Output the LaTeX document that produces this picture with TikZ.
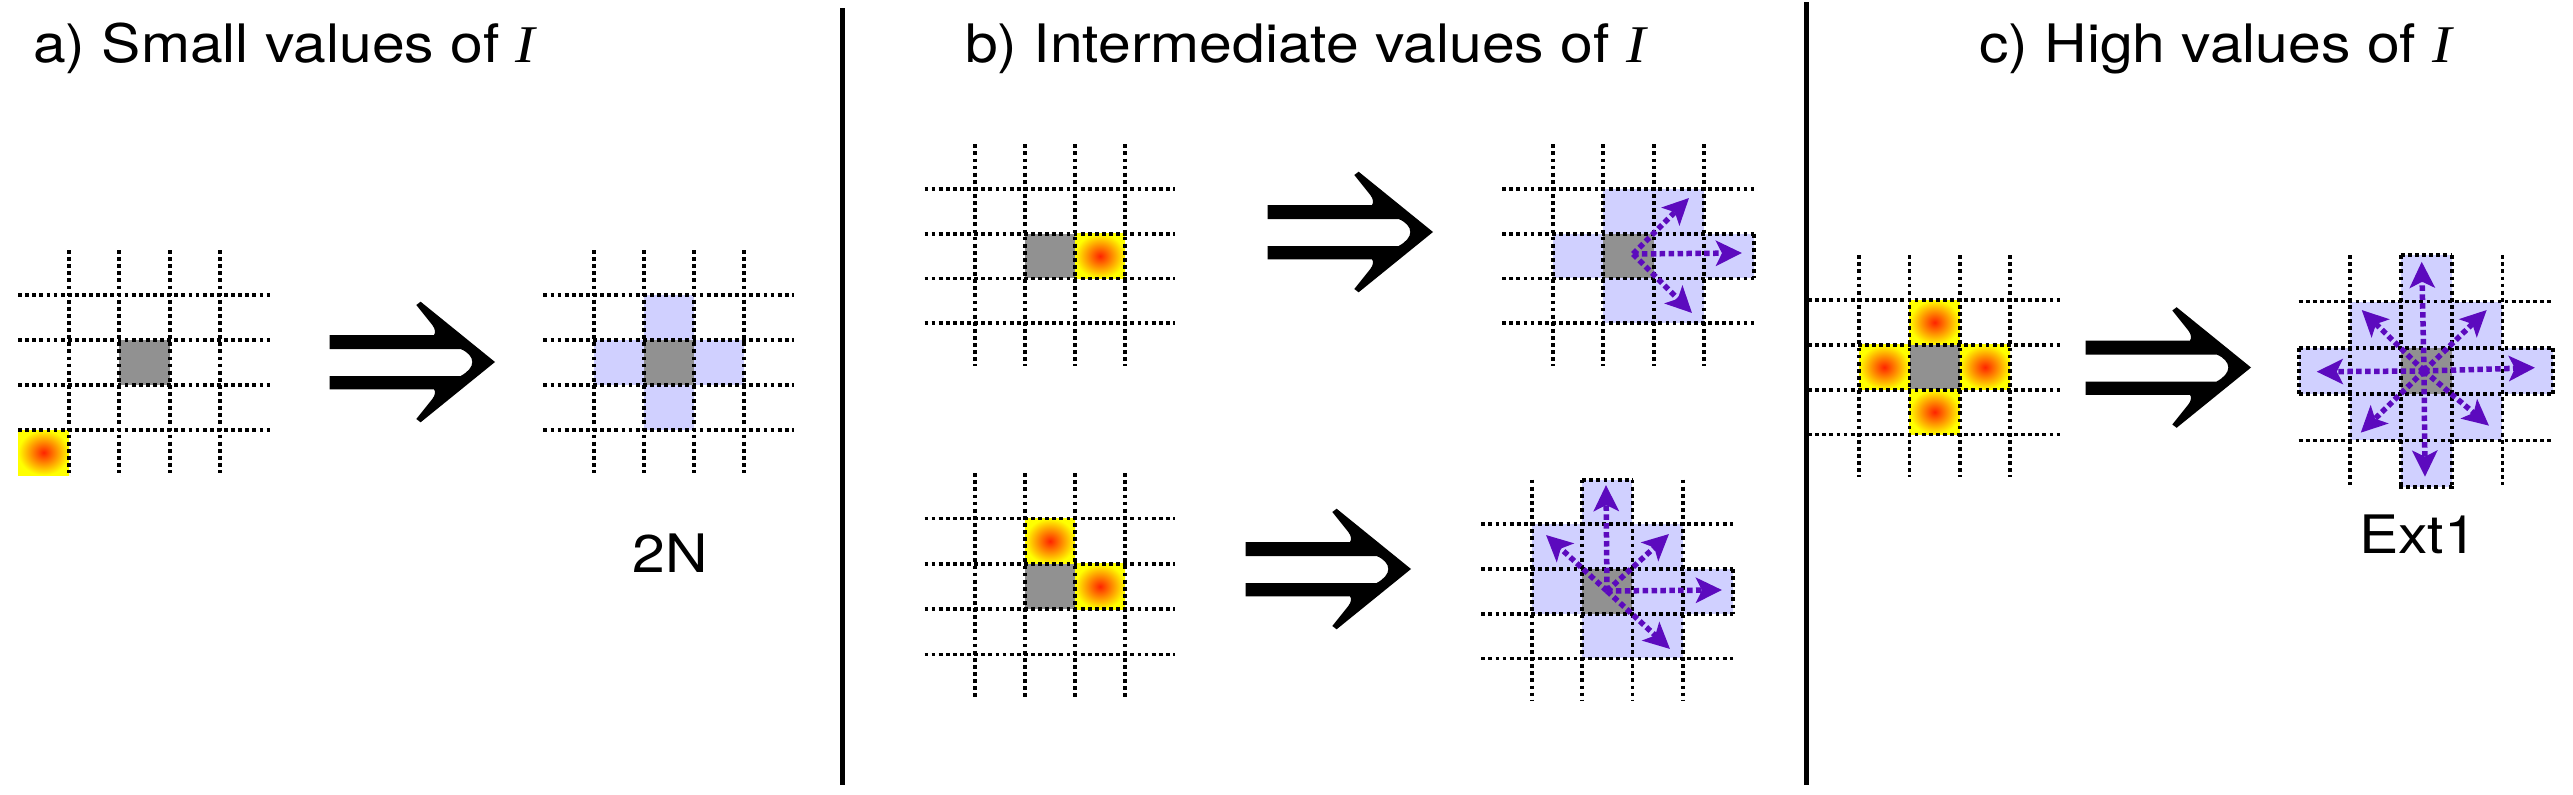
\documentclass[tikz,border=0pt]{standalone}
\usepackage{fontspec}
\setmainfont{TeX Gyre Heros}
\newfontfamily\serifit{Liberation Serif}
\usetikzlibrary{arrows.meta}
\definecolor{lav}{RGB}{208,208,255}
\definecolor{cellgray}{RGB}{145,145,145}
\definecolor{purp}{RGB}{92,10,190}
\definecolor{hotred}{RGB}{255,35,0}
\newcommand{\varI}{{\serifit\itshape I}}
\newcommand{\dgrid}{\foreach \k in {0,1,2,3}{\draw[gridline] (\k,-1) -- (\k,3.96); \draw[gridline] (-1.01,\k) -- (4,\k);}}
\newcommand{\bigimp}[1]{\fill[black, shift={#1}] (-165.3,-27) -- (-61,-27) .. controls (-59.5,-29) and (-59.5,-33) .. (-62.7,-37) -- (-78.7,-57) -- (-74.4,-60.3) -- (0,0) -- (-74.4,60.3) -- (-78.7,57) -- (-62.7,37) .. controls (-59.5,33) and (-59.5,29) .. (-61,27.3) -- (-165.3,27.3) -- (-165.3,14) -- (-34.4,14) .. controls (-27,10) and (-22.7,5) .. (-22.7,0) .. controls (-22.7,-5) and (-27,-10) .. (-34.4,-13) -- (-165.3,-13) -- cycle;}
\tikzset{
  gridline/.style={line width=3.8pt, dash pattern=on 3.8pt off 3.3pt, black},
  lavcell/.style={fill=lav},
  graycell/.style={fill=cellgray},
  hotcell/.style={inner color=hotred, outer color=yellow},
  flow/.style={purp, line width=5.5pt, dash pattern=on 5.5pt off 3.4pt, -{Stealth[length=26pt,width=25pt,inset=6pt]}},
  divider/.style={line width=5pt, black},
  title/.style={font=\fontsize{53}{60}\selectfont, anchor=base west, inner sep=0pt},
  lbl/.style={font=\fontsize{53}{60}\selectfont, anchor=base, inner sep=0pt},
}
\begin{document}
\begin{tikzpicture}[x=1pt,y=-1pt]
\useasboundingbox (0,0) rectangle (2573,795);

% ---------- a) ----------
\begin{scope}[shift={(69pt,-295pt)},x=50.3pt,y=-45pt]
  \fill[graycell] (1,1) rectangle (2,2);
  \shade[hotcell] (-1.01,3) rectangle (0,4);
  \dgrid
\end{scope}
\bigimp{(495pt,-362pt)}
\begin{scope}[shift={(594pt,-295pt)},x=50.1pt,y=-45pt]
  \fill[lavcell] (1,0) rectangle (2,3);
  \fill[lavcell] (0,1) rectangle (3,2);
  \fill[graycell] (1,1) rectangle (2,2);
  \dgrid
\end{scope}

% ---------- b) top ----------
\begin{scope}[shift={(975pt,-189pt)},x=50pt,y=-44.7pt]
  \fill[graycell] (1,1) rectangle (2,2);
  \shade[hotcell] (2,1) rectangle (3,2);
  \dgrid
\end{scope}
\bigimp{(1433pt,-232pt)}
\begin{scope}[shift={(1553pt,-189pt)},x=50.3pt,y=-44.7pt]
  \fill[lavcell] (1,0) rectangle (3,3);
  \fill[lavcell] (0,1) rectangle (4,2);
  \fill[graycell] (1,1) rectangle (2,2);
  \dgrid
  \draw[gridline] (4,1) -- (4,2);
\end{scope}

% ---------- b) bottom ----------
\begin{scope}[shift={(975pt,-518.5pt)},x=50pt,y=-45.3pt]
  \fill[graycell] (1,1) rectangle (2,2);
  \shade[hotcell] (1,0) rectangle (2,1);
  \shade[hotcell] (2,1) rectangle (3,2);
  \dgrid
\end{scope}
\bigimp{(1411pt,-569pt)}
\begin{scope}[shift={(1532pt,-524.3pt)},x=50.2pt,y=-44.7pt]
  \fill[lavcell] (1,-1) rectangle (2,0);
  \fill[lavcell] (0,0) rectangle (3,1);
  \fill[lavcell] (0,1) rectangle (4,2);
  \fill[lavcell] (1,2) rectangle (3,3);
  \fill[graycell] (1,1) rectangle (2,2);
  \dgrid
  \draw[gridline] (1,-1) -- (2,-1);
  \draw[gridline] (4,1) -- (4,2);
\end{scope}

% ---------- c) ----------
\begin{scope}[shift={(1859pt,-300pt)},x=50.4pt,y=-44.8pt]
  \fill[graycell] (1,1) rectangle (2,2);
  \shade[hotcell] (1,0) rectangle (2,1);
  \shade[hotcell] (0,1) rectangle (1,2);
  \shade[hotcell] (2,1) rectangle (3,2);
  \shade[hotcell] (1,2) rectangle (2,3);
  \dgrid
\end{scope}
\bigimp{(2251pt,-367.5pt)}
\begin{scope}[shift={(2350pt,-301.5pt)},x=50.8pt,y=-46.3pt]
  \fill[lavcell] (1,-1) rectangle (2,0);
  \fill[lavcell] (0,0) rectangle (3,1);
  \fill[lavcell] (-1,1) rectangle (4,2);
  \fill[lavcell] (0,2) rectangle (3,3);
  \fill[lavcell] (1,3) rectangle (2,4);
  \fill[graycell] (1,1) rectangle (2,2);
  \dgrid
  \draw[gridline] (1,-1) -- (2,-1);
  \draw[gridline] (1,3.96) -- (1,4) -- (2,4) -- (2,3.96);
  \draw[gridline] (-1,1) -- (-1,2);
  \draw[gridline] (4,1) -- (4,2);
\end{scope}

% ---------- purple flow arrows ----------
\coordinate (bo) at (1633,254);
\coordinate (bt1) at (1689,198);
\coordinate (bt2) at (1742,253);
\coordinate (bt3) at (1692,313);
\draw[flow] (bo) -- (bt1);
\draw[flow] (bo) -- (bt2);
\draw[flow] (bo) -- (bt3);

\coordinate (do) at (1607,591);
\coordinate (dt1) at (1606,485);
\coordinate (dt2) at (1546,535);
\coordinate (dt3) at (1669,534);
\coordinate (dt4) at (1722,590);
\coordinate (dt5) at (1670,649);
\foreach \t in {dt1,dt2,dt3,dt4,dt5} {\draw[flow] (do) -- (\t);}

\coordinate (co) at (2424,371);
\coordinate (ct1) at (2421.7,261.7);
\coordinate (ct2) at (2425,476.7);
\coordinate (ct3) at (2316.7,371.7);
\coordinate (ct4) at (2535,367.7);
\coordinate (ct5) at (2361.7,310);
\coordinate (ct6) at (2486.7,310);
\coordinate (ct7) at (2360.7,432.7);
\coordinate (ct8) at (2489,425.7);
\foreach \t in {ct1,ct2,ct3,ct4,ct5,ct6,ct7,ct8} {\draw[flow] (co) -- (\t);}

% ---------- dividers ----------
\coordinate (s1t) at (842,8);
\coordinate (s1b) at (842,785);
\coordinate (s2t) at (1806.5,2);
\coordinate (s2b) at (1806.5,785);
\draw[divider] (s1t) -- (s1b);
\draw[divider] (s2t) -- (s2b);

% ---------- texts ----------
\node[title] (ta) at (33,62) {\scalebox{1.11}[1]{a) Small values of \varI}};
\node[title] (tb) at (965,62) {\scalebox{1.11}[1]{b) Intermediate values of \varI}};
\node[title] (tc) at (1979,62) {\scalebox{1.11}[1]{c) High values of \varI}};
\node[lbl] (l2n) at (670,572) {\scalebox{1.11}[1]{2N}};
\node[lbl] (lext) at (2418,553) {\scalebox{1.11}[1]{Ext1}};
\end{tikzpicture}
\end{document}
